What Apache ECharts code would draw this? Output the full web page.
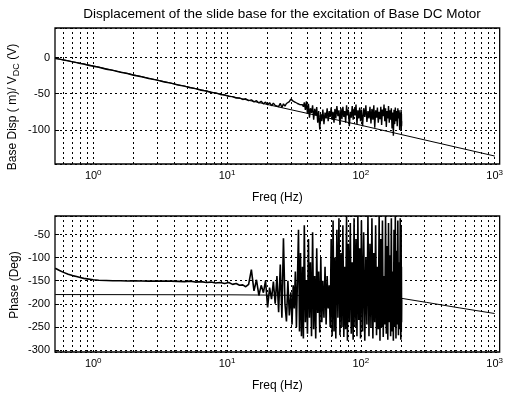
<!DOCTYPE html>
<html><head><meta charset="utf-8">
<script src="https://cdn.jsdelivr.net/npm/echarts/dist/echarts.min.js"></script>
<style>html,body{margin:0;padding:0;background:#fff}#c{width:506px;height:393px}</style>
</head><body><div id="c"></div><script>
const titleText = 'Displacement of the slide base for the excitation of Base DC Motor';
const xName = 'Freq (Hz)';
const magName = 'Base Disp ( m)/ V{sub|DC} (V)';
const phaseName = 'Phase (Deg)';

// vertical grid positions (log axis decades and sub-decades)
const gridX = [0.6,0.7,0.8,0.9,1,2,3,4,5,6,7,8,9,10,20,30,40,50,60,70,80,90,100,200,300,400,500,600,700,800,900,1000];

// measured frequencies (Hz)
const freq = [
  0.52,0.56,0.6,0.65,0.7,0.75,0.8,0.85,0.9,1.0,
  1.1,1.25,1.4,1.6,1.8,2.0,2.3,2.6,3.0,3.4,
  3.8,4.3,4.8,5.3,5.8,6.4,7.0,7.6,8.2,8.9,
  9.6,10.3,11.0,11.7,12.4,13.1,13.8,14.5,15.2,15.9,
  16.6,17.3,18.0,18.7,19.4,20.1,20.8,21.5,22.2,22.9,
  23.6,24.3,25.0,25.7,26.4,27.1,27.8,28.5,29.2,30.0,
  30.6,31.2,31.8,32.4,33.0,33.6,34.2,34.8,35.4,36.0,
  36.6,37.2,37.8,38.5,39.2,39.9,40.6,41.3,42.0,42.8,
  43.6,44.4,45.2,46.0,46.8,47.6,48.4,49.3,50.2,51.1,
  52,53,54,55,56,57,58,59,60,61,
  62,63,64,65,66.2,67.4,68.6,69.8,71,72.2,
  73.4,74.6,75.8,77,78.2,79.4,80.6,82,83.4,84.8,
  86.2,87.6,89,90.5,92,93.5,95,96.5,98,99.5,
  101,103,105,107,109,111,113,115,117,119,
  121,123,125,127,129,131,133,135,137,139,
  141,143,145,147,149,151,153,155,157,159,
  161,163,165,167,169,171,173,175,177,179,
  181,183,185,187,189,191,193,195,197,199,
  200,200.5,201,201.5,202
];
// measured magnitude
const magMeas = [
  -1.5,-2.2,-3.4,-4.6,-6.0,-7.1,-8.3,-9.0,-10.3,-12.1,
  -13.5,-16.2,-17.8,-20.6,-22.1,-24.5,-26.6,-29.2,-31.3,-33.9,
  -35.4,-38.1,-39.5,-41.8,-42.9,-45.2,-46.2,-48.3,-48.9,-51.0,
  -51.8,-53.6,-54.0,-55.9,-55.8,-57.9,-57.0,-59.6,-58.4,-61.2,
  -59.6,-62.7,-60.5,-64.0,-61.6,-65.3,-62.4,-66.6,-63.0,-66.1,
  -64.5,-67.8,-63.2,-68.9,-64.0,-67.2,-63.5,-66.0,-61.0,-57.5,
  -58.5,-60.2,-59.4,-61.8,-61.0,-63.5,-62.6,-64.8,-63.9,-66.4,
  -65.2,-68.0,-62.0,-72.5,-60.5,-78.0,-64.0,-83.0,-70.0,-76.5,
  -66.0,-86.0,-71.0,-80.0,-68.5,-90.0,-74.0,-99.5,-78.0,-88.0,
  -72.0,-92.0,-76.0,-84.0,-70.0,-88.0,-74.0,-82.0,-69.0,-86.0,
  -75.0,-90.0,-71.0,-84.0,-67.0,-81.0,-73.0,-93.0,-70.0,-85.0,
  -68.0,-82.0,-74.0,-90.0,-66.0,-80.0,-72.0,-95.0,-75.0,-83.0,
  -67.0,-86.0,-71.0,-80.0,-65.0,-92.0,-73.0,-84.0,-69.0,-88.0,
  -72.0,-95.0,-70.0,-82.0,-66.0,-89.0,-74.0,-84.0,-68.0,-91.0,
  -71.0,-86.0,-66.0,-97.0,-73.0,-83.0,-69.0,-90.0,-75.0,-85.0,
  -68.0,-93.0,-72.0,-81.0,-65.0,-88.0,-70.0,-96.0,-74.0,-84.0,
  -67.0,-90.0,-73.0,-86.0,-70.0,-98.0,-76.0,-108.0,-72.0,-92.0,
  -69.0,-88.0,-74.0,-95.0,-70.0,-84.0,-73.0,-100.0,-76.0,-90.0,
  -72.0,-101.0,-78.0,-95.0,-88.0
];
// measured phase (deg)
const phaseMeas = [
  -123,-128,-132,-136,-139,-141,-143,-145,-146,-148,
  -149,-149.5,-150,-150,-150.5,-150,-150.5,-151,-150.5,-151,
  -151,-151.5,-152,-151,-153,-152,-154,-153,-155,-154,
  -156,-154,-158,-156,-160,-159,-163,-158,-126,-172,
  -148,-182,-160,-176,-150,-208,-165,-190,-152,-200,
  -140,-218,-115,-230,-58,-200,-238,-150,-225,-175,
  -245,-160,-210,-130,-250,-145,-40,-260,-90,-270,
  -120,-275,-30,-240,-150,-265,-60,-230,-110,-270,
  -45,-255,-140,-275,-80,-220,-130,-262,-100,-240,
  -150,-230,-120,-245,-140,-210,-160,-250,-60,-270,
  -20,-260,-100,-275,-40,-230,-15,-268,-90,-250,
  -30,-272,-120,-255,-10,-280,-70,-240,-25,-265,
  -110,-278,-15,-250,-60,-270,-10,-235,-80,-275,
  -20,-260,-45,-280,-100,-245,-10,-270,-70,-250,
  -15,-275,-90,-240,-30,-268,-120,-255,-10,-280,
  -60,-250,-20,-272,-140,-245,-10,-265,-75,-278,
  -25,-240,-95,-270,-15,-260,-130,-280,-40,-250,
  -10,-275,-85,-245,-20,-268,-110,-255,-15,-278,
  -30,-260,-120,-240,-190
];
// model curves
const magModelFreq = [0.52, 1, 10, 100, 1000];
const magModel = [-1, -11.5, -52.5, -93.5, -136];
const phaseModelFreq = [0.52, 10, 30, 100, 200, 310, 550, 1000];
const phaseModel = [-180, -180.5, -181.5, -184, -188, -197, -209, -221];

const FONT = '"Liberation Sans", Arial, Helvetica, sans-serif';
const X_MIN = 0.518, X_MAX = 1090;

function zip(xs, ys) { const n = Math.min(xs.length, ys.length); const out = []; for (let i = 0; i < n; i++) out.push([xs[i], ys[i]]); return out; }

const dotted = { color: '#000', type: [2, 3], width: 1 };

function xAxisCfg(gi) {
  return {
    type: 'log', logBase: 10, gridIndex: gi, min: X_MIN, max: X_MAX,
    axisLine: { show: false }, axisTick: { show: false }, splitLine: { show: false },
    axisLabel: {
      color: '#000', fontFamily: FONT, fontSize: 11, margin: 5, lineHeight: 14,
      showMinLabel: false, showMaxLabel: false,
      formatter: v => '10{sup|' + Math.round(Math.log10(v)) + '}',
      rich: { sup: { fontSize: 8, lineHeight: 8, verticalAlign: 'top', color: '#000', fontFamily: FONT } }
    },
    name: xName, nameLocation: 'middle', nameGap: 28,
    nameTextStyle: { color: '#000', fontFamily: FONT, fontSize: 12 }
  };
}
function yAxisCfg(gi, mn, mx) {
  return {
    type: 'value', gridIndex: gi, min: mn, max: mx, splitNumber: 4, minInterval: 50, maxInterval: 50,
    axisLine: { show: false },
    axisTick: { show: true, inside: true, length: 4, lineStyle: { color: '#000' } },
    axisLabel: { color: '#000', fontFamily: FONT, fontSize: 11, margin: 5, showMinLabel: false, showMaxLabel: false },
    splitLine: { show: true, lineStyle: dotted }
  };
}
function lineSeries(xi, data, w, extra) {
  return Object.assign({
    type: 'line', xAxisIndex: xi, yAxisIndex: xi, data: data, symbol: 'none', showSymbol: false,
    lineStyle: { color: '#000', width: w }, silent: true, animation: false, clip: true
  }, extra || {});
}
function gridMarks() {
  return {
    silent: true, symbol: ['none', 'none'], label: { show: false }, animation: false,
    lineStyle: dotted, emphasis: { disabled: true },
    data: gridX.map(v => ({ xAxis: v }))
  };
}

const chart = echarts.init(document.getElementById('c'), null, { renderer: 'canvas' });
chart.setOption({
  animation: false,
  backgroundColor: '#fff',
  title: {
    text: titleText, left: 282, top: 7, textAlign: 'center', padding: 0,
    textStyle: { color: '#000', fontFamily: FONT, fontSize: 13.5, fontWeight: 'normal' }
  },
  grid: [
    { left: 55, top: 28, width: 445, height: 136, show: true, borderColor: '#000', borderWidth: 1.3, backgroundColor: '#fff' },
    { left: 55, top: 216, width: 445, height: 136, show: true, borderColor: '#000', borderWidth: 1.3, backgroundColor: '#fff' }
  ],
  xAxis: [xAxisCfg(0), xAxisCfg(1)],
  yAxis: [yAxisCfg(0, -147, 40.7), yAxisCfg(1, -304.3, -10)],
  graphic: [
    { type: 'text', x: 13, y: 107, rotation: Math.PI / 2, silent: true,
      style: { text: magName, fill: '#000', fontFamily: FONT, fontSize: 12, align: 'center', verticalAlign: 'middle', lineHeight: 16,
        rich: { sub: { fontSize: 9, lineHeight: 9, verticalAlign: 'bottom', fill: '#000', fontFamily: FONT } } } },
    { type: 'text', x: 15, y: 285, rotation: Math.PI / 2, silent: true,
      style: { text: phaseName, fill: '#000', fontFamily: FONT, fontSize: 12, align: 'center', verticalAlign: 'middle' } }
  ],
  series: [
    lineSeries(0, zip(magModelFreq, magModel), 1, { markLine: gridMarks() }),
    lineSeries(0, zip(freq, magMeas), 1.4),
    lineSeries(1, zip(phaseModelFreq, phaseModel), 1, { markLine: gridMarks() }),
    lineSeries(1, zip(freq, phaseMeas), 1.6)
  ]
});
</script></body></html>
